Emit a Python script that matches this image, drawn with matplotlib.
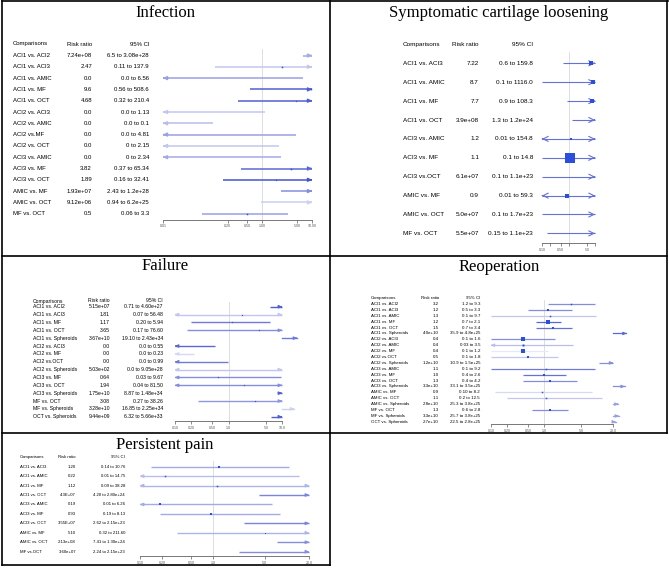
# Forest plots of network meta-analysis (5 outcomes) arranged in a bordered grid
import numpy as np
import matplotlib
matplotlib.use('Agg')
import matplotlib.pyplot as plt
from matplotlib.lines import Line2D
from matplotlib.transforms import blended_transform_factory

W, H = 669, 568

# ---------------- Infection ----------------
inf_comp = ['ACI1 vs. ACI2', 'ACI1 vs. ACI3', 'ACI1 vs. AMIC', 'ACI1 vs. MF', 'ACI1 vs. OCT',
            'ACI2 vs. ACI3', 'ACI2 vs. AMIC', 'ACI2 vs.MF', 'ACI2 vs. OCT', 'ACI3 vs. AMIC',
            'ACI3 vs. MF', 'ACI3 vs. OCT', 'AMIC vs. MF', 'AMIC vs. OCT', 'MF vs. OCT']
inf_rr = ['7.24e+08', '2.47', '0.0', '9.6', '4.68', '0.0', '0.0', '0.0', '0.0', '0.0',
          '3.82', '1.89', '1.93e+07', '9.12e+06', '0.5']
inf_ci = ['6.5 to 3.08e+28', '0.11 to 137.9', '0.0 to 6.56', '0.56 to 508.6', '0.32 to 210.4',
          '0.0 to 1.13', '0.0 to 0.1', '0.0 to 4.81', '0 to 2.15', '0 to 2.34',
          '0.37 to 65.34', '0.16 to 32.41', '2.43 to 1.2e+28', '0.94 to 6.2e+25', '0.06 to 3.3']
inf_est = [7.24e8, 2.47, 0, 9.6, 4.68, 0, 0, 0, 0, 0, 3.82, 1.89, 1.93e7, 9.12e6, 0.5]
inf_lo = [6.5, 0.11, 0, 0.56, 0.32, 0, 0, 0, 0, 0, 0.37, 0.16, 2.43, 0.94, 0.06]
inf_hi = [3.08e28, 137.9, 6.56, 508.6, 210.4, 1.13, 0.1, 4.81, 2.15, 2.34, 65.34, 32.41, 1.2e28, 6.2e25, 3.3]
inf_shade = [0.45, 0.3, 0.5, 0.85, 0.85, 0.3, 0.35, 0.5, 0.3, 0.45, 0.8, 0.9, 0.6, 0.25, 0.5]
inf_box = [1, 1.5, 1, 1.5, 1.2, 1, 1, 1, 1, 1, 1.5, 1.2, 1, 1, 1.5]

# ---------------- Symptomatic cartilage loosening ----------------
scl_comp = ['ACI1 vs. ACI3', 'ACI1 vs. AMIC', 'ACI1 vs. MF', 'ACI1 vs. OCT', 'ACI3 vs. AMIC',
            'ACI3 vs. MF', 'ACI3 vs.OCT', 'AMIC vs. MF', 'AMIC vs. OCT', 'MF vs. OCT']
scl_rr = ['7.22', '8.7', '7.7', '3.9e+08', '1.2', '1.1', '6.1e+07', '0.9', '5.0e+07', '5.5e+07']
scl_ci = ['0.6 to 159.8', '0.1 to 1116.0', '0.9 to 108.3', '1.3 to 1.2e+24', '0.01 to 154.8',
          '0.1 to 14.8', '0.1 to 1.1e+23', '0.01 to 59.3', '0.1 to 1.7e+23', '0.15 to 1.1e+23']
scl_est = [7.22, 8.7, 7.7, 3.9e8, 1.2, 1.1, 6.1e7, 0.9, 5.0e7, 5.5e7]
scl_lo = [0.6, 0.1, 0.9, 1.3, 0.01, 0.1, 0.1, 0.01, 0.1, 0.15]
scl_hi = [159.8, 1116.0, 108.3, 1.2e24, 154.8, 14.8, 1.1e23, 59.3, 1.7e23, 1.1e23]
scl_shade = [0.75] * 10
scl_box = [4, 4, 4, 3, 3, 11, 3, 4, 3, 3]

# ---------------- Failure ----------------
fai_comp = ['ACI1 vs. ACI2', 'ACI1 vs. ACI3', 'ACI1 vs. MF', 'ACI1 vs. OCT', 'ACI1 vs. Spheroids',
            'ACI2 vs. ACI3', 'ACI2 vs. MF', 'ACI2 vs.OCT', 'ACI2 vs. Spheroids', 'ACI3 vs. MF',
            'ACI3 vs. OCT', 'ACI3 vs. Spheroids', 'MF vs. OCT', 'MF vs. Spheroids', 'OCT vs. Spheroids']
fai_rr = ['5.15e+07', '1.81', '1.17', '3.65', '3.67e+10', '0.0', '0.0', '0.0', '5.03e+02',
          '0.64', '1.94', '1.75e+10', '3.08', '3.28e+10', '9.44e+09']
fai_ci = ['0.71 to 4.60e+27', '0.07 to 56.48', '0.20 to 5.94', '0.17 to 76.60', '19.10 to 2.43e+34',
          '0.0 to 0.55', '0.0 to 0.23', '0.0 to 0.99', '0.0 to 9.05e+28', '0.03 to 9.67',
          '0.04 to 81.50', '8.87 to 1.48e+34', '0.27 to 38.26', '16.85 to 2.25e+34', '6.32 to 5.66e+33']
fai_est = [5.15e7, 1.81, 1.17, 3.65, 3.67e10, 0, 0, 0, 503, 0.64, 1.94, 1.75e10, 3.08, 3.28e10, 9.44e9]
fai_lo = [6.0, 0.07, 0.20, 0.17, 19.10, 0, 0, 0, 0, 0.03, 0.04, 8.87, 0.27, 16.85, 6.32]
fai_hi = [4.6e27, 56.48, 5.94, 76.60, 2.43e34, 0.55, 0.23, 0.99, 9.05e28, 9.67, 81.50, 1.48e34,
          38.26, 2.25e34, 5.66e33]
fai_shade = [0.85, 0.3, 0.7, 0.6, 0.7, 0.8, 0.2, 0.7, 0.3, 0.6, 0.6, 0.85, 0.55, 0.25, 0.85]
fai_box = [1.2] * 15

# ---------------- Reoperation ----------------
reo_comp = ['ACI1 vs. ACI2', 'ACI1 vs. ACI3', 'ACI1 vs. AMIC', 'ACI1 vs. MF', 'ACI1 vs. OCT',
            'ACI1 vs. Spheroids', 'ACI2 vs. ACI3', 'ACI2 vs. AMIC', 'ACI2 vs. MF', 'ACI2 vs.OCT',
            'ACI2 vs. Spheroids', 'ACI3 vs. AMIC', 'ACI3 vs. MF', 'ACI3 vs. OCT', 'ACI3 vs. Spheroids',
            'AMIC vs. MF', 'AMIC vs. OCT', 'AMIC vs. Spheroids', 'MF vs. OCT', 'MF vs. Spheroids',
            'OCT vs. Spheroids']
reo_rr = ['3.2', '1.2', '1.3', '1.2', '1.5', '4.0e+10', '0.4', '0.4', '0.4', '0.5', '1.2e+10',
          '1.1', '1.0', '1.3', '3.3e+10', '0.9', '1.1', '2.8e+10', '1.3', '3.3e+10', '2.7e+10']
reo_ci = ['1.2 to 9.3', '0.5 to 3.3', '0.1 to 9.7', '0.7 to 2.1', '0.7 to 3.4', '35.9 to 4.8e+25',
          '0.1 to 1.6', '0.03 to 3.5', '0.1 to 1.2', '0.1 to 1.8', '10.9 to 1.5e+25', '0.1 to 9.2',
          '0.4 to 2.6', '0.4 to 4.2', '33.1 to 3.5e+25', '0.10 to 8.2', '0.2 to 12.5',
          '25.3 to 3.8e+25', '0.6 to 2.8', '25.7 to 3.8e+25', '22.5 to 2.8e+25']
reo_est = [3.2, 1.2, 1.3, 1.2, 1.5, 4.0e10, 0.4, 0.4, 0.4, 0.5, 1.2e10, 1.1, 1.0, 1.3, 3.3e10,
           0.9, 1.1, 2.8e10, 1.3, 3.3e10, 2.7e10]
reo_lo = [1.2, 0.5, 0.1, 0.7, 0.7, 35.9, 0.1, 0.03, 0.1, 0.1, 10.9, 0.1, 0.4, 0.4, 33.1, 0.12,
          0.2, 25.3, 0.6, 25.7, 22.5]
reo_hi = [9.3, 3.3, 9.7, 2.1, 3.4, 4.8e25, 1.6, 3.5, 1.2, 1.8, 1.5e25, 9.2, 2.6, 4.2, 3.5e25,
          8.2, 12.5, 3.8e25, 2.8, 3.8e25, 2.8e25]
reo_shade = [0.6, 0.6, 0.3, 0.8, 0.75, 0.8, 0.6, 0.35, 0.12, 0.3, 0.6, 0.7, 0.75, 0.6, 0.6,
             0.2, 0.3, 0.5, 0.6, 0.5, 0.5]
reo_box = [1.5, 2.5, 1.5, 3.5, 2.5, 1, 3.5, 2, 4.5, 3, 1, 1.5, 3, 2.5, 1, 1.5, 1.5, 1, 2.5, 1, 1]

# ---------------- Persistent pain ----------------
pp_comp = ['ACI1 vs. ACI3', 'ACI1 vs. AMIC', 'ACI1 vs. MF', 'ACI1 vs. OCT', 'ACI3 vs. AMIC',
           'ACI3 vs. MF', 'ACI3 vs. OCT', 'AMIC vs. MF', 'AMIC vs. OCT', 'MF vs.OCT']
pp_rr = ['1.20', '0.22', '1.12', '4.3E+07', '0.19', '0.93', '3.55E+07', '5.10', '2.13e+08', '3.60e+07']
pp_ci = ['0.14 to 10.76', '0.01 to 14.75', '0.09 to 38.28', '4.20 to 2.80e+24', '0.01 to 6.26',
         '0.19 to 8.13', '2.62 to 2.15e+23', '0.32 to 211.60', '7.41 to 1.30e+24', '2.24 to 2.15e+23']
pp_est = [1.20, 0.22, 1.12, 4.3e7, 0.19, 0.93, 3.55e7, 5.10, 2.13e8, 3.60e7]
pp_lo = [0.14, 0.01, 0.09, 4.20, 0.01, 0.19, 2.62, 0.32, 7.41, 2.24]
pp_hi = [10.76, 14.75, 38.28, 2.8e24, 6.26, 8.13, 2.15e23, 211.60, 1.30e24, 2.15e23]
pp_shade = [0.45, 0.35, 0.4, 0.65, 0.45, 0.45, 0.65, 0.4, 0.6, 0.6]
pp_box = [2.5, 1.5, 1.5, 1, 3, 2.5, 1, 1, 1, 1]

BASE = np.array([0.20, 0.26, 0.78])
BOX = '#2a4fe0'


def mix(shade):
    return tuple(1 - shade * (1 - BASE))


fig = plt.figure(figsize=(W / 100, H / 100), dpi=100)


def arrow(ax, x_from, x_to, y, color, style, ms, lw):
    ax.annotate('', xy=(x_to, y), xytext=(x_from, y), annotation_clip=False,
                arrowprops=dict(arrowstyle=style, color=color, lw=lw, mutation_scale=ms,
                                shrinkA=0, shrinkB=0))


def panel(title, title_xy, x0, x1, y_head, y_first, step, y_axis, xlim, ticks, ticklabels,
          cols, fs, comp, rr, ci, est, lo, hi, shade, box, style='-|>', ams=5, lw=1.0):
    n = len(comp)
    top = -(y_first - y_head) / step
    bottom = (n - 1) + (y_axis - (y_first + (n - 1) * step)) / step
    ax = fig.add_axes([x0 / W, 1 - y_axis / H, (x1 - x0) / W, (y_axis - y_head) / H])
    ax.set_xscale('log')
    ax.set_xlim(xlim)
    ax.set_ylim(bottom, top)
    for s in ['top', 'left', 'right']:
        ax.spines[s].set_visible(False)
    ax.spines['bottom'].set_color('#777777')
    ax.spines['bottom'].set_linewidth(0.7)
    ax.set_yticks([])
    ax.set_xticks(ticks)
    ax.set_xticklabels(ticklabels)
    ax.xaxis.set_minor_locator(matplotlib.ticker.NullLocator())
    ax.tick_params(axis='x', labelsize=2.6, length=2, width=0.6, pad=1.5,
                   color='#777777', labelcolor='#555555')
    ax.patch.set_alpha(0)
    ax.plot([1, 1], [-0.6, bottom], color='#d8d8d8', lw=0.6, zorder=0)

    xmin, xmax = xlim
    for i in range(n):
        c = mix(shade[i])
        if lo[i] >= xmax:
            # whole interval beyond the axis: drawn past the right end
            ax.plot([xmax, lo[i]], [i, i], color=c, lw=lw, clip_on=False)
            arrow(ax, lo[i] / 1.05, lo[i], i, c, style, ams, lw)
            continue
        left = max(lo[i], xmin)
        right = min(hi[i], xmax)
        ax.plot([left, right], [i, i], color=c, lw=lw, clip_on=False, solid_capstyle='butt')
        if lo[i] < xmin:
            arrow(ax, xmin * 1.05, xmin, i, c, style, ams, lw)
        if hi[i] > xmax:
            arrow(ax, xmax / 1.05, xmax, i, c, style, ams, lw)
        if xmin <= est[i] <= xmax:
            ax.plot(est[i], i, marker='s', color=BOX, markersize=box[i] / 1.39, mew=0, zorder=5)

    tr = blended_transform_factory(fig.transFigure, ax.transData)
    ax.text(cols[0] / W, top, 'Comparisons', transform=tr, fontsize=fs, ha='left', va='center')
    ax.text(cols[1] / W, top, 'Risk ratio', transform=tr, fontsize=fs, ha='right', va='center')
    ax.text(cols[2] / W, top, '95% CI', transform=tr, fontsize=fs, ha='right', va='center')
    for i in range(n):
        ax.text(cols[0] / W, i, comp[i], transform=tr, fontsize=fs, ha='left', va='center')
        ax.text(cols[1] / W, i, rr[i], transform=tr, fontsize=fs, ha='right', va='center')
        ax.text(cols[2] / W, i, ci[i], transform=tr, fontsize=fs, ha='right', va='center')

    fig.text(title_xy[0] / W, 1 - title_xy[1] / H, title, ha='center', va='center',
             fontsize=12, family='Liberation Serif')


plt.rcParams['font.family'] = ['Liberation Sans', 'DejaVu Sans']

panel('Infection', (165, 13), 163, 312, 44, 55.5, 11.3, 219.5, (0.01, 10),
      [0.01, 0.2, 0.5, 1, 5, 10], ['0.01', '0.20', '0.50', '1.00', '5.00', '10.00'],
      (13, 92, 149), 4.3, inf_comp, inf_rr, inf_ci, inf_est, inf_lo, inf_hi, inf_shade, inf_box,
      ams=5, lw=1.1)

panel('Symptomatic cartilage loosening', (499, 13), 542, 595, 44, 63.3, 18.9, 243, (0.1, 10),
      [0.1, 0.2, 0.5, 1, 5, 10], ['0.10', '', '0.50', '', '5.0', ''],
      (403, 479, 533), 4.6, scl_comp, scl_rr, scl_ci, scl_est, scl_lo, scl_hi, scl_shade, scl_box,
      style='->', ams=9, lw=0.8)

panel('Failure', (165, 266), 175, 282, 301, 306.7, 7.86, 421, (0.1, 10),
      [0.1, 0.2, 0.5, 1, 5, 10], ['0.10', '0.20', '0.50', '1.0', '5.0', '10.0'],
      (33, 110, 163), 3.7, fai_comp, fai_rr, fai_ci, fai_est, fai_lo, fai_hi, fai_shade, fai_box,
      ams=4, lw=1.0)

panel('Reoperation', (499, 267), 491, 613, 298, 304, 5.89, 424, (0.1, 20),
      [0.1, 0.2, 0.5, 1, 5, 20], ['0.10', '0.20', '0.50', '1.0', '5.0', '20.0'],
      (371, 439, 480), 3.2, reo_comp, reo_rr, reo_ci, reo_est, reo_lo, reo_hi, reo_shade, reo_box,
      ams=4, lw=0.9)

panel('Persistent pain', (165, 445), 140, 309, 457, 466.7, 9.44, 556, (0.1, 20),
      [0.1, 0.2, 0.5, 1, 5, 20], ['0.10', '0.20', '0.50', '1.0', '5.0', '20.0'],
      (20, 76, 125), 3.1, pp_comp, pp_rr, pp_ci, pp_est, pp_lo, pp_hi, pp_shade, pp_box,
      ams=4, lw=1.0)

# table borders
borders = [((2, 668), (1, 1)), ((2, 2), (1, 565)), ((667, 667), (1, 433)),
           ((330, 330), (1, 565)), ((2, 667), (256, 256)), ((2, 667), (433, 433)),
           ((2, 330), (565, 565))]
for xs, ys in borders:
    fig.add_artist(Line2D([xs[0] / W, xs[1] / W], [1 - ys[0] / H, 1 - ys[1] / H],
                          color='black', lw=1.2))

fig.savefig('out.png', dpi=100)
